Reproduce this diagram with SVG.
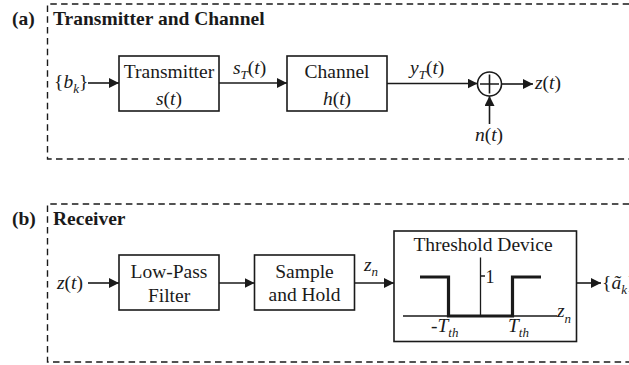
<svg xmlns="http://www.w3.org/2000/svg" width="629" height="365" viewBox="0 0 629 365">
<style>
text{font-family:'Liberation Serif','Times New Roman','DejaVu Serif',serif;fill:#1a1a1a}
.t{font-size:19.5px}
.b{font-size:19.5px;font-weight:bold}
.m{font-size:19.5px;font-style:italic}
.up{font-style:normal}
.s{font-size:13px;font-style:italic}
.box{fill:#fff;stroke:#1a1a1a;stroke-width:1.6}
.dash{fill:none;stroke:#1a1a1a;stroke-width:1.4;stroke-dasharray:6.5 4.3}
.ln{fill:none;stroke:#1a1a1a;stroke-width:1.6}
</style>
<defs>
<marker id="ah" markerUnits="userSpaceOnUse" markerWidth="12" markerHeight="10" refX="10" refY="5" orient="auto">
<path d="M0,0 L10,5 L0,10 Z" fill="#1a1a1a"/>
</marker>
</defs>

<g font-family="Liberation Serif, serif">
<g id="panel-a">
<path class="dash" d="M640,4 H47.5 V159 H640"/>
<text class="b" x="12" y="25">(a)</text>
<text class="b" x="53" y="25">Transmitter and Channel</text>
</g>

<g id="panel-b">
<path class="dash" d="M640,204 H47.5 V362 H640"/>
<text class="b" x="12" y="225">(b)</text>
<text class="b" x="53" y="225">Receiver</text>
</g>

<g id="input-bk">
<text class="m" x="54" y="88"><tspan class="up">{</tspan>b<tspan class="s" dy="5">k</tspan><tspan class="up" dy="-5">}</tspan></text>
</g>

<g id="transmitter">
<rect class="box" x="119" y="56" width="100" height="55"/>
<text class="t" x="169" y="78" text-anchor="middle">Transmitter</text>
<text class="m" x="169" y="105" text-anchor="middle">s<tspan class="up">(</tspan>t<tspan class="up">)</tspan></text>
</g>

<g id="channel">
<rect class="box" x="287" y="56" width="100" height="55"/>
<text class="t" x="337" y="78" text-anchor="middle">Channel</text>
<text class="m" x="337" y="105" text-anchor="middle">h<tspan class="up">(</tspan>t<tspan class="up">)</tspan></text>
</g>

<g id="summer">
<circle cx="489.5" cy="84" r="12" fill="#fff" stroke="#1a1a1a" stroke-width="1.6"/>
<path class="ln" d="M480,84 H499 M489.5,74.5 V93.5"/>
</g>

<g id="noise">
<text class="m" x="489" y="141" text-anchor="middle">n<tspan class="up">(</tspan>t<tspan class="up">)</tspan></text>
</g>

<g id="output-zt">
<text class="m" x="535" y="89">z<tspan class="up">(</tspan>t<tspan class="up">)</tspan></text>
</g>

<g id="input-zt">
<text class="m" x="57" y="289">z<tspan class="up">(</tspan>t<tspan class="up">)</tspan></text>
</g>

<g id="lowpass">
<rect class="box" x="119" y="255" width="100" height="55"/>
<text class="t" x="169" y="278" text-anchor="middle">Low-Pass</text>
<text class="t" x="169" y="302" text-anchor="middle">Filter</text>
</g>

<g id="samplehold">
<rect class="box" x="254.5" y="255" width="100" height="55"/>
<text class="t" x="304.5" y="278" text-anchor="middle">Sample</text>
<text class="t" x="304.5" y="301" text-anchor="middle">and Hold</text>
</g>

<g id="threshold">
<rect class="box" x="394" y="231" width="182.5" height="110.5"/>
<text class="t" x="483" y="251" text-anchor="middle">Threshold Device</text>
<path fill="none" stroke="#1a1a1a" stroke-width="1.3" d="M403,316 H557 M480.5,257.5 V316 M480.5,276 H485"/>
<path fill="none" stroke="#1a1a1a" stroke-width="3.2" d="M420,277 H448.5 V316 H512.5 V277 H541"/>
<text class="t" x="485.5" y="283" style="font-size:18px">1</text>
<text class="m" x="431" y="332"><tspan class="up">-</tspan>T<tspan class="s" dy="5">th</tspan></text>
<text class="m" x="508" y="332">T<tspan class="s" dy="5">th</tspan></text>
<text class="m" x="557" y="317">z<tspan class="s" dy="6">n</tspan></text>
</g>

<g id="output-ak">
<text class="m" x="602" y="289"><tspan class="up">{</tspan>ã<tspan class="s" dy="5">k</tspan><tspan class="up" dy="-5">}</tspan></text>
</g>

<g id="connectors">
<path class="ln" d="M88,83 H119" marker-end="url(#ah)"/>
<path class="ln" d="M219,83 H287" marker-end="url(#ah)"/>
<path class="ln" d="M387,83.5 H477.5" marker-end="url(#ah)"/>
<path class="ln" d="M501.5,84 H533" marker-end="url(#ah)"/>
<path class="ln" d="M489.5,124 V96" marker-end="url(#ah)"/>
<path class="ln" d="M88,283 H119" marker-end="url(#ah)"/>
<path class="ln" d="M219,283 H254.5" marker-end="url(#ah)"/>
<path class="ln" d="M354.5,283 H394" marker-end="url(#ah)"/>
<path class="ln" d="M576.5,283 H601" marker-end="url(#ah)"/>
<text class="m" x="233" y="74">s<tspan class="s" dy="5">T</tspan><tspan class="up" dy="-5">(</tspan>t<tspan class="up">)</tspan></text>
<text class="m" x="410" y="74">y<tspan class="s" dy="5">T</tspan><tspan class="up" dy="-5">(</tspan>t<tspan class="up">)</tspan></text>
<text class="m" x="364" y="271">z<tspan class="s" dy="5">n</tspan></text>
</g>
</g>
</svg>
